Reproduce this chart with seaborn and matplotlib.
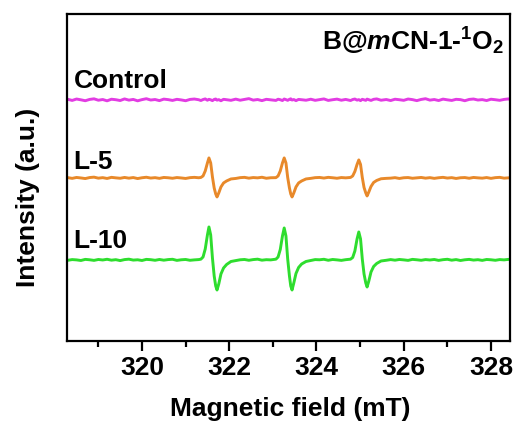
import matplotlib
matplotlib.use("Agg")
import matplotlib.pyplot as plt
import numpy as np
import pandas as pd
import seaborn as sns
from matplotlib.ticker import MultipleLocator

# ---------------- data ----------------
field = [
    # baseline 1
    318.3, 318.4, 318.5, 318.6, 318.7, 318.8, 318.9, 319.0, 319.1, 319.2,
    319.3, 319.4, 319.5, 319.6, 319.7, 319.8, 319.9, 320.0, 320.1, 320.2,
    320.3, 320.4, 320.5, 320.6, 320.7, 320.8, 320.9, 321.0, 321.1, 321.2, 321.3,
    # line 1
    321.35, 321.40, 321.45, 321.50, 321.535, 321.575, 321.615, 321.655, 321.69, 321.72,
    321.76, 321.81, 321.87, 321.94, 322.04,
    # baseline 2
    322.15, 322.25, 322.35, 322.45, 322.55, 322.65, 322.75, 322.85, 322.95,
    # line 2
    323.07, 323.12, 323.17, 323.22, 323.26, 323.30, 323.34, 323.38, 323.41, 323.44,
    323.48, 323.53, 323.59, 323.66, 323.76,
    # baseline 3
    323.87, 323.97, 324.07, 324.17, 324.27, 324.37, 324.47, 324.57, 324.67,
    # line 3
    324.78, 324.83, 324.88, 324.93, 324.97, 325.01, 325.05, 325.09, 325.13, 325.16,
    325.20, 325.25, 325.31, 325.38, 325.48,
    # baseline 4
    325.6, 325.7, 325.8, 325.9, 326.0, 326.1, 326.2, 326.3, 326.4, 326.5,
    326.6, 326.7, 326.8, 326.9, 327.0, 327.1, 327.2, 327.3, 327.4, 327.5,
    327.6, 327.7, 327.8, 327.9, 328.0, 328.1, 328.2, 328.3, 328.4, 328.45,
]

control = [
    0.6, -0.5, 0.9, 0.1, -0.8, 0.5, 1.1, -0.3, 0.4, -0.9,
    0.7, 0.2, -0.6, 1.0, -0.2, 0.5, -0.9, 0.3, 1.2, -0.1,
    0.4, -0.7, 0.8, 0.3, -0.5, 0.6, 0.0, -0.8, 0.5, 0.9, 0.2,
    -0.6, 0.4, 1.0, -0.3, 0.6, 0.1, -0.7, 0.5, 0.9, -0.2,
    0.3, -0.8, 0.6, 0.2, -0.4,
    0.8, -0.3, 0.5, 1.3, -0.2, 0.4, -0.7, 0.6, 0.1,
    -0.5, 0.7, 0.2, -0.6, 0.9, 0.3, -0.4, 0.6, 1.1, -0.1,
    0.4, -0.7, 0.5, 0.2, -0.3,
    0.7, -0.4, 0.3, 1.0, -0.5, 0.2, 0.8, -0.3, 0.5,
    -0.6, 0.4, 0.9, -0.2, 0.3, -0.7, 0.6, 0.1, -0.4, 0.8,
    0.2, -0.5, 0.6, 1.0, -0.3,
    0.4, -0.6, 0.7, 0.2, -0.4, 0.9, 0.3, -0.7, 0.5, 1.2,
    -0.2, 0.4, -0.6, 0.8, 0.1, -0.5, 0.6, 0.3, -0.8, 0.5,
    0.9, -0.1, 0.3, -0.6, 0.7, 0.2, -0.4, 0.5, 1.0, 0.2,
]

l5 = [
    0.3, -0.4, 0.5, 0.0, -0.6, 0.4, 0.8, -0.2, 0.3, -0.5,
    0.6, 0.1, -0.3, 0.5, -0.2, 0.4, -0.6, 0.2, 0.7, -0.1,
    0.3, -0.4, 0.5, 0.2, -0.3, 0.4, 0.0, -0.5, 0.3, 0.6, 0.2,
    0.5, 2.0, 7.0, 15.0, 20.0, 15.0, 1.0, -10.0, -16.0, -19.0,
    -15.0, -9.0, -5.0, -3.0, -1.0,
    -0.5, 0.3, 0.6, -0.2, 0.4, 0.1, 0.7, -0.3, 0.2,
    0.3, 2.0, 7.0, 15.0, 20.0, 15.0, 0.5, -10.0, -16.0, -19.0,
    -15.0, -9.0, -5.0, -3.0, -1.0,
    -0.4, 0.3, 0.5, -0.1, 0.6, 0.2, -0.3, 0.4, 0.1,
    0.5, 2.0, 6.5, 13.5, 18.0, 13.5, 0.5, -9.5, -15.0, -18.0,
    -14.0, -8.5, -4.5, -2.5, -0.8,
    -0.4, -0.2, 0.3, -0.5, 0.2, 0.4, -0.3, 0.1, 0.5, -0.2,
    0.3, -0.4, 0.2, 0.6, -0.1, 0.3, -0.5, 0.2, 0.4, -0.3,
    0.5, 0.1, -0.2, 0.4, -0.4, 0.3, 0.6, -0.2, 0.1, 0.3,
]

l10 = [
    -0.3, 0.4, 0.1, -0.5, 0.6, 0.2, -0.4, 0.5, 0.0, 0.7,
    -0.2, 0.3, -0.6, 0.4, 0.8, -0.1, 0.2, -0.5, 0.6, 0.3,
    -0.3, 0.5, -0.2, 0.4, 0.7, -0.4, 0.2, 0.5, -0.3, 0.1, 0.4,
    0.8, 3.0, 11.0, 25.0, 33.0, 25.0, 2.0, -16.0, -26.0, -30.0,
    -24.0, -14.0, -8.0, -4.5, -1.5,
    -0.6, 0.2, 0.5, -0.3, 0.4, 0.8, -0.2, 0.3, 0.1,
    0.8, 3.0, 10.5, 24.0, 32.0, 24.0, 1.0, -16.0, -26.0, -30.0,
    -23.0, -13.5, -7.5, -4.0, -1.5,
    -0.5, 0.4, 0.2, 0.7, -0.3, 0.5, 0.1, -0.4, 0.3,
    0.8, 2.5, 9.0, 21.0, 28.0, 21.0, 1.0, -14.0, -23.0, -27.0,
    -21.0, -12.0, -6.5, -3.5, -1.0,
    -0.3, 0.4, -0.2, 0.5, 0.1, -0.4, 0.6, 0.2, -0.3, 0.4,
    0.0, 0.5, -0.4, 0.3, 0.7, -0.2, 0.4, -0.5, 0.2, 0.6,
    -0.1, 0.3, -0.4, 0.5, 0.2, -0.3, 0.4, 0.1, 0.6, 0.3,
]

labels = ["Control", "L-5", "L-10"]
offsets = [241, 163, 81]
colors = ["#E23CE2", "#E8892A", "#2EDD2E"]
title_text = r"B@$\mathit{m}$CN-1-$^{\mathbf{1}}$O$_{\mathbf{2}}$"
xticks = [320, 322, 324, 326, 328]

# ---------------- plotting ----------------
sns.set_style("white")
plt.rcParams["font.family"] = ["Liberation Sans", "DejaVu Sans"]
plt.rcParams["font.weight"] = "bold"
plt.rcParams["text.color"] = "black"
plt.rcParams["axes.labelcolor"] = "black"
plt.rcParams["xtick.color"] = "black"
plt.rcParams["ytick.color"] = "black"
plt.rcParams["mathtext.fontset"] = "custom"
plt.rcParams["mathtext.rm"] = "Liberation Sans:bold"
plt.rcParams["mathtext.bf"] = "Liberation Sans:bold"
plt.rcParams["mathtext.it"] = "Liberation Sans:italic:bold"

FS = 19

fig = plt.figure(figsize=(5.19, 4.21), dpi=100)
ax = fig.add_axes([0.129, 0.190, 0.854, 0.777])

series = [control, l5, l10]
for lab, vals, off, col in zip(labels, series, offsets, colors):
    df = pd.DataFrame({"field": field, "intensity": np.array(vals) + off})
    sns.lineplot(data=df, x="field", y="intensity", color=col, lw=2.1,
                 ax=ax, estimator=None, sort=False)

ax.set_xlim(318.28, 328.44)
ax.set_ylim(0, 327)

ax.set_xticks(xticks)
ax.xaxis.set_minor_locator(MultipleLocator(1))
ax.set_yticks([])
ax.tick_params(axis="x", which="major", direction="out", length=7, width=1.6,
               labelsize=FS, pad=4, bottom=True, colors="black")
ax.tick_params(axis="x", which="minor", direction="out", length=4, width=1.6,
               bottom=True, colors="black")
for lbl in ax.get_xticklabels():
    lbl.set_fontweight("bold")

for sp in ax.spines.values():
    sp.set_visible(True)
    sp.set_color("black")
    sp.set_linewidth(1.6)

ax.set_xlabel("Magnetic field (mT)", fontsize=FS, fontweight="bold", color="black")
ax.set_ylabel("Intensity (a.u.)", fontsize=FS, fontweight="bold", color="black")
ax.xaxis.set_label_coords(0.503, -0.172)
ax.yaxis.set_label_coords(-0.06, 0.44)

# trace labels
label_y = [253, 172, 93]
for lab, ly in zip(labels, label_y):
    ax.text(318.43, ly, lab, fontsize=FS, fontweight="bold", ha="left",
            va="baseline", color="black")

ax.text(0.985, 0.888, title_text, transform=ax.transAxes, fontsize=FS,
        fontweight="bold", ha="right", va="baseline", color="black")

fig.savefig("out.png", dpi=100)
